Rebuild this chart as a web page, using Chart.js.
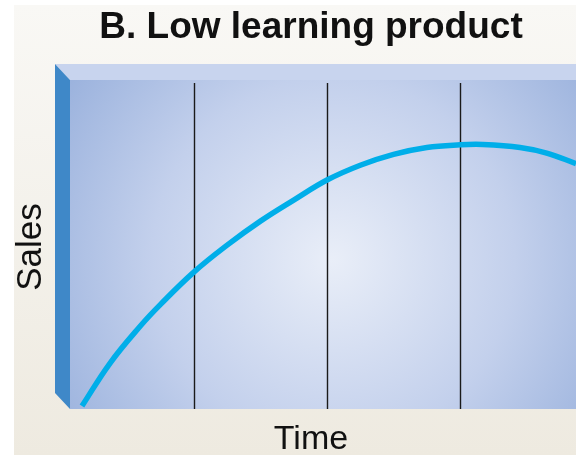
<!DOCTYPE html>
<html>
<head>
<meta charset="utf-8">
<script src="https://cdn.jsdelivr.net/npm/chart.js@4/dist/chart.umd.min.js"></script>
<style>
  html, body { margin: 0; padding: 0; background: #fff; }
  #wrap { width: 576px; height: 455px; position: relative; }
</style>
</head>
<body>
<div id="wrap"><canvas id="chart" width="576" height="455"></canvas></div>
<script>
// time runs in "stages" (vertical lines sit on 1, 2, 3)
const timeValues = [0.16, 0.37, 0.6, 0.75, 1.0, 1.25, 1.5, 1.75, 2.0, 2.25, 2.5, 2.75, 3.0, 3.17, 3.45, 3.65, 3.87]
const salesValues = [0.9, 13.9, 25.3, 31.8, 41.6, 49.8, 57.1, 63.5, 69.6, 74.1, 77.4, 79.5, 80.3, 80.4, 79.5, 77.8, 74.6]
const stageLines = [1, 2, 3]

const chartTitle = "B. Low learning product"
const xLabel = "Time"
const yLabel = "Sales"

const points = timeValues.map((t, i) => ({ x: t, y: salesValues[i] }))

// background, bevelled plot box, divider lines and labels
const decor = {
  id: "decor",
  beforeDraw(chart) {
    const ctx = chart.ctx
    const a = chart.chartArea
    ctx.save()
    ctx.fillStyle = "#ffffff"
    ctx.fillRect(0, 0, chart.width, chart.height)
    const bg = ctx.createLinearGradient(0, 5, 0, chart.height)
    bg.addColorStop(0, "#f9f8f5")
    bg.addColorStop(1, "#eeeae0")
    ctx.fillStyle = bg
    ctx.fillRect(14, 5, chart.width - 14, chart.height - 5)

    // plot face
    const cx = (a.left + a.right) / 2 + 10
    const cy = (a.top + a.bottom) / 2 + 15
    const face = ctx.createRadialGradient(cx, cy, 0, cx, cy, 330)
    face.addColorStop(0, "#e9eef8")
    face.addColorStop(0.55, "#c3d0ec")
    face.addColorStop(1, "#98b0dc")
    ctx.fillStyle = face
    ctx.fillRect(a.left, a.top, a.right - a.left, a.bottom - a.top)

    // top bevel
    ctx.fillStyle = "#c8d4ee"
    ctx.beginPath()
    ctx.moveTo(a.left - 15, a.top - 16)
    ctx.lineTo(a.right, a.top - 16)
    ctx.lineTo(a.right, a.top)
    ctx.lineTo(a.left, a.top)
    ctx.closePath()
    ctx.fill()

    // left bevel
    ctx.fillStyle = "#3f88c8"
    ctx.beginPath()
    ctx.moveTo(a.left - 15, a.top - 16)
    ctx.lineTo(a.left, a.top)
    ctx.lineTo(a.left, a.bottom)
    ctx.lineTo(a.left - 15, a.bottom - 16)
    ctx.closePath()
    ctx.fill()

    // stage dividers
    const x = chart.scales.x
    ctx.strokeStyle = "#1a1a1a"
    ctx.lineWidth = 1.4
    stageLines.forEach((v) => {
      const px = Math.round(x.getPixelForValue(v)) + 0.5
      ctx.beginPath()
      ctx.moveTo(px, a.top + 3)
      ctx.lineTo(px, a.bottom)
      ctx.stroke()
    })

    // texts
    ctx.fillStyle = "#111"
    ctx.textAlign = "center"
    ctx.textBaseline = "alphabetic"
    ctx.font = "bold 37px 'Liberation Sans', Arial, sans-serif"
    ctx.fillText(chartTitle, 311, 38)
    ctx.font = "34px 'Liberation Sans', Arial, sans-serif"
    ctx.fillText(xLabel, 311, 449)
    ctx.translate(41, 247)
    ctx.rotate(-Math.PI / 2)
    ctx.font = "35px 'Liberation Sans', Arial, sans-serif"
    ctx.fillText(yLabel, 0, 0)
    ctx.restore()
  }
}

new Chart(document.getElementById("chart"), {
  type: "line",
  data: {
    datasets: [{
      label: yLabel,
      data: points,
      borderColor: "#00aee9",
      borderWidth: 5.5,
      pointRadius: 0,
      tension: 0.4,
      borderCapStyle: "butt",
      clip: { left: 0, top: 10, right: 0, bottom: 1 }
    }]
  },
  options: {
    responsive: false,
    animation: false,
    layout: { padding: { left: 70, right: 0, top: 80, bottom: 46 } },
    plugins: {
      legend: { display: false },
      title: { display: false },
      tooltip: { enabled: false }
    },
    scales: {
      x: { type: "linear", min: 0.07, max: 3.87, display: false },
      y: { type: "linear", min: 0, max: 100, display: false }
    }
  },
  plugins: [decor]
})
</script>
</body>
</html>
